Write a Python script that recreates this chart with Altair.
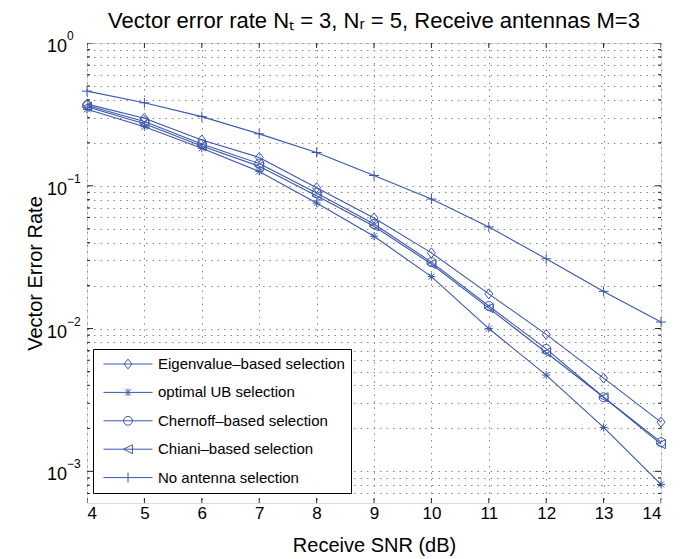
import altair as alt
import pandas as pd

FONT = "Liberation Sans"
BLUE = "#3b56ad"

# ---- data ----
snr = [4, 5, 6, 7, 8, 9, 10, 11, 12, 13, 14]
eigen = [0.373, 0.297, 0.209, 0.158, 0.097, 0.0595, 0.0339, 0.0175, 0.0091, 0.0045, 0.00221]
opt_ub = [0.343, 0.259, 0.183, 0.126, 0.0757, 0.0443, 0.0231, 0.0100, 0.00472, 0.00203, 0.00081]
chernoff = [0.365, 0.282, 0.196, 0.143, 0.089, 0.054, 0.0292, 0.0144, 0.0072, 0.0033, 0.0016]
chiani = [0.358, 0.272, 0.190, 0.137, 0.085, 0.052, 0.0283, 0.0139, 0.0068, 0.0033, 0.00155]
no_sel = [0.46, 0.381, 0.305, 0.231, 0.171, 0.118, 0.0807, 0.0515, 0.0308, 0.0182, 0.0111]

series_names = [
    "Eigenvalue\u2013based selection",
    "optimal UB selection",
    "Chernoff\u2013based selection",
    "Chiani\u2013based selection",
    "No antenna selection",
]

x_ticks = [4, 5, 6, 7, 8, 9, 10, 11, 12, 13, 14]
y_decades = [1.0, 0.1, 0.01, 0.001]
y_exponents = ["0", "\u22121", "\u22122", "\u22123"]
y_minor = [9e-1, 8e-1, 7e-1, 6e-1, 5e-1, 4e-1, 3e-1, 2e-1,
           9e-2, 8e-2, 7e-2, 6e-2, 5e-2, 4e-2, 3e-2, 2e-2,
           9e-3, 8e-3, 7e-3, 6e-3, 5e-3, 4e-3, 3e-3, 2e-3,
           9e-4, 8e-4, 7e-4]
y_domain = [6e-4, 1.0]
x_domain = [4, 14]

# marker shapes (plot) and legend symbols (line + marker)
marker_paths = [
    "M0,-1L0.8,0L0,1L-0.8,0Z",
    "M-0.8,0L0.8,0M0,-0.8L0,0.8M-0.6,-0.6L0.6,0.6M-0.6,0.6L0.6,-0.6",
    "M0.9,0A0.9,0.9,0,1,1,-0.9,0A0.9,0.9,0,1,1,0.9,0Z",
    "M-0.9,0L0.9,-0.9L0.9,0.9Z",
    "M-1,0L1,0M0,-1L0,1",
]
legend_paths = [
    "M-1,0L1,0M0,-0.2L0.16,0L0,0.2L-0.16,0Z",
    "M-1,0L1,0M0,-0.16L0,0.16M-0.12,-0.12L0.12,0.12M-0.12,0.12L0.12,-0.12",
    "M-1,0L1,0M0.18,0A0.18,0.18,0,1,1,-0.18,0A0.18,0.18,0,1,1,0.18,0Z",
    "M-1,0L1,0M-0.18,0L0.18,-0.18L0.18,0.18Z",
    "M-1,0L1,0M0,-0.2L0,0.2",
]

rows = []
for name, vals in zip(series_names, [eigen, opt_ub, chernoff, chiani, no_sel]):
    for x, v in zip(snr, vals):
        rows.append({"snr": x, "ver": v, "series": name})
df = pd.DataFrame(rows)

W, H = 574, 460

x_scale = alt.Scale(domain=x_domain, nice=False, zero=False)
y_scale = alt.Scale(type="log", domain=y_domain, nice=False)

x_axis = alt.Axis(
    values=x_ticks, format="d", labelFont=FONT, labelFontSize=17, labelColor="black",
    ticks=False, tickSize=0, domain=False, labelPadding=2,
    grid=True, gridDash=[1.5, 5], gridColor="#8a8a8a", gridWidth=1,
    title="Receive SNR (dB)", titleFont=FONT, titleFontSize=20, titleFontWeight="normal",
    titleColor="black", titleY=42, titleBaseline="middle",
)
y_axis = alt.Axis(
    values=y_decades + y_minor, labels=False, ticks=False, tickSize=0, domain=False,
    grid=True, gridDash=[1.5, 5], gridColor="#8a8a8a", gridWidth=1,
    title="Vector Error Rate", titleFont=FONT, titleFontSize=20, titleFontWeight="normal",
    titleColor="black", titleX=-52, titleY=H / 2, titleAngle=-90,
    titleAlign="center", titleBaseline="middle",
)

base = alt.Chart(df)

lines = base.mark_line(color=BLUE, strokeWidth=1.1).encode(
    x=alt.X("snr:Q", scale=x_scale, axis=x_axis),
    y=alt.Y("ver:Q", scale=y_scale, axis=y_axis),
    detail="series:N",
)

points = base.mark_point(filled=False, color=BLUE, size=100, strokeWidth=1, opacity=1).encode(
    x=alt.X("snr:Q", scale=x_scale),
    y=alt.Y("ver:Q", scale=y_scale),
    shape=alt.Shape("series:N", scale=alt.Scale(domain=series_names, range=marker_paths), legend=None),
)

legend_layer = base.transform_filter("false").mark_point(
    filled=False, color=BLUE, size=2401, strokeWidth=1, opacity=1
).encode(
    x=alt.X("snr:Q", scale=x_scale),
    y=alt.Y("ver:Q", scale=y_scale),
    shape=alt.Shape(
        "series:N",
        scale=alt.Scale(domain=series_names, range=legend_paths),
        legend=alt.Legend(
            title=None, orient="none", legendX=6, legendY=306, padding=6,
            strokeColor="black", fillColor="white", cornerRadius=0,
            labelFont=FONT, labelFontSize=15, labelColor="black", labelLimit=400,
            symbolSize=2401, symbolStrokeWidth=1, symbolStrokeColor=BLUE,
            symbolFillColor="transparent", symbolOffset=4, labelOffset=5,
            clipHeight=18, rowPadding=10.4,
        ),
    ),
)

# inward ticks (MATLAB style box)
xt_df = pd.DataFrame({"snr": x_ticks})
maj_df = pd.DataFrame({"ver": y_decades})
min_df = pd.DataFrame({"ver": y_minor})

def xtick(yval):
    return alt.Chart(xt_df).mark_tick(orient="vertical", size=10, thickness=1, color="#222", opacity=1, clip=True).encode(
        x=alt.X("snr:Q", scale=x_scale), y=alt.value(yval))

def ytick(d, xval, length):
    return alt.Chart(d).mark_tick(orient="horizontal", size=length, thickness=1, color="#222", opacity=1, clip=True).encode(
        y=alt.Y("ver:Q", scale=y_scale), x=alt.value(xval))

ticks = [xtick(H), xtick(0), ytick(maj_df, 0, 12), ytick(maj_df, W, 12), ytick(min_df, 0, 6), ytick(min_df, W, 6)]

# y tick labels as 10^k with raised exponent
dec_df = pd.DataFrame({"ver": y_decades, "exp": y_exponents})
lab10 = alt.Chart(dec_df).mark_text(align="right", baseline="middle", font=FONT, fontSize=18, color="black", dy=4).encode(
    y=alt.Y("ver:Q", scale=y_scale), x=alt.value(-20), text=alt.value("10"))
labexp = alt.Chart(dec_df).mark_text(align="left", baseline="middle", font=FONT, fontSize=12, color="black", dy=-7).encode(
    y=alt.Y("ver:Q", scale=y_scale), x=alt.value(-20), text="exp:N")

chart = alt.layer(lines, points, *ticks, lab10, labexp, legend_layer).resolve_scale(
    shape="independent"
).properties(
    width=W, height=H,
    autosize=alt.AutoSizeParams(type="none"),
    padding={"left": 79, "top": 35, "right": 20, "bottom": 55},
    title=alt.Title(
        "Vector error rate N\u209c = 3, N\u1d63 = 5, Receive antennas M=3",
        font=FONT, fontSize=22, fontWeight="normal", color="black", anchor="middle", offset=-3,
    ),
).configure_view(stroke="#222", strokeWidth=1).configure(background="white")

chart.save("out.html", embed_options={"renderer": "svg", "actions": False})
